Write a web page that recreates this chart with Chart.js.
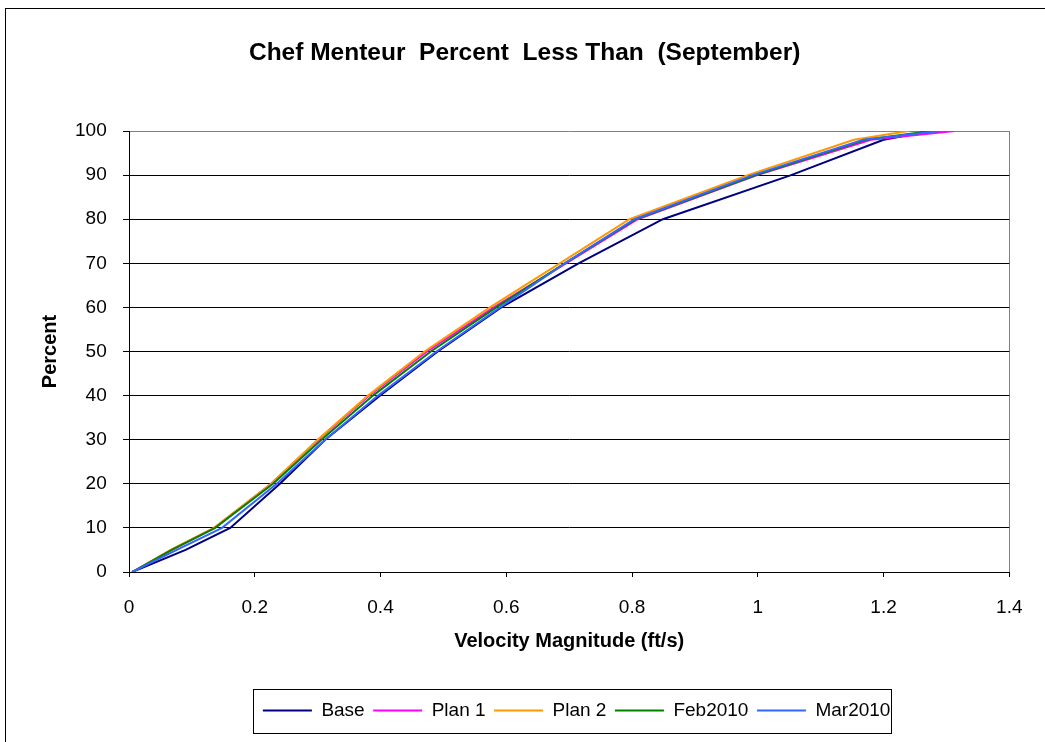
<!DOCTYPE html>
<html>
<head>
<meta charset="utf-8">
<script src="https://cdn.jsdelivr.net/npm/chart.js@4.4.1/dist/chart.umd.min.js"></script>
<style>
  html, body { margin: 0; padding: 0; background: #ffffff; }
  #wrap { width: 1045px; height: 742px; }
</style>
</head>
<body>
<div id="wrap"><canvas id="c" width="1045" height="742"></canvas></div>
<script>
// ---- data ----
const percentLevels = [0, 5, 10, 20, 30, 40, 50, 60, 70, 80, 90, 98, 100];
const baseVel    = [0.005, 0.090, 0.161, 0.240, 0.312, 0.399, 0.491, 0.592, 0.715, 0.849, 1.053, 1.200, 1.275];
const plan1Vel   = [0.005, 0.068, 0.136, 0.226, 0.301, 0.382, 0.474, 0.580, 0.695, 0.809, 0.999, 1.180, 1.313];
const plan2Vel   = [0.005, 0.066, 0.135, 0.226, 0.300, 0.380, 0.470, 0.574, 0.685, 0.796, 0.984, 1.153, 1.240];
const feb2010Vel = [0.005, 0.068, 0.137, 0.229, 0.306, 0.388, 0.480, 0.584, 0.693, 0.806, 0.997, 1.172, 1.275];
const mar2010Vel = [0.005, 0.076, 0.148, 0.235, 0.312, 0.396, 0.489, 0.590, 0.693, 0.804, 0.992, 1.168, 1.290];
const seriesNames = ['Base', 'Plan 1', 'Plan 2', 'Feb2010', 'Mar2010'];
const seriesColors = ['#000080', '#FF00FF', '#FF9900', '#008000', '#3366FF'];
const xTicks = [0, 0.2, 0.4, 0.6, 0.8, 1, 1.2, 1.4];
const yTicks = [0, 10, 20, 30, 40, 50, 60, 70, 80, 90, 100];

const allVel = [baseVel, plan1Vel, plan2Vel, feb2010Vel, mar2010Vel];
const FONT = "'Liberation Sans', Arial, sans-serif";
const LEGEND_SHIFT = 7.5;

const datasets = allVel.map((vel, i) => ({
  label: seriesNames[i],
  data: vel.map((v, j) => ({ x: v, y: percentLevels[j] })),
  borderColor: seriesColors[i],
  backgroundColor: seriesColors[i],
  borderWidth: 2,
  pointRadius: 0,
  pointHoverRadius: 0,
  tension: 0,
  fill: false,
  order: allVel.length - i
}));

const framePlugin = {
  id: 'frames',
  afterUpdate(chart) {
    const lg = chart.legend;
    if (!lg) return;
    lg.left += LEGEND_SHIFT;
    lg.right += LEGEND_SHIFT;
    (lg.legendHitBoxes || []).forEach(h => { h.left += LEGEND_SHIFT; });
  },
  beforeDraw(chart) {
    const ctx = chart.ctx;
    ctx.save();
    ctx.strokeStyle = '#000000';
    ctx.lineWidth = 1;
    ctx.strokeRect(5.5, 8.5, 1100, 800);
    ctx.restore();
  },
  afterDraw(chart) {
    const lg = chart.legend;
    if (!lg || !lg.legendHitBoxes || !lg.legendHitBoxes.length) return;
    const hb = lg.legendHitBoxes;
    const first = hb[0], last = hb[hb.length - 1];
    const cy = first.top + first.height / 2;
    const left = Math.round(first.left - 10) + 0.5;
    const right = Math.round(last.left + last.width + 1) + 0.5;
    const top = Math.round(cy - 22) + 0.5;
    const bottom = Math.round(cy + 22) + 0.5;
    const ctx = chart.ctx;
    ctx.save();
    ctx.strokeStyle = '#000000';
    ctx.lineWidth = 1;
    ctx.strokeRect(left, top, right - left, bottom - top);
    ctx.restore();
  }
};

new Chart(document.getElementById('c'), {
  type: 'line',
  data: { datasets },
  options: {
    responsive: false,
    animation: false,
    devicePixelRatio: 1,
    layout: { padding: { left: 40, right: 35.7, top: 10, bottom: 12 } },
    plugins: {
      title: {
        display: true,
        text: 'Chef Menteur  Percent  Less Than  (September)',
        color: '#000000',
        font: { family: FONT, size: 24.5, weight: 'bold', lineHeight: 1.2 },
        padding: { top: 28.3, bottom: 63.3 }
      },
      legend: {
        display: true,
        position: 'bottom',
        fullSize: false,
        labels: {
          color: '#000000',
          font: { family: FONT, size: 19 },
          boxWidth: 49,
          boxHeight: 2,
          padding: 8.5,
          sort: (a, b) => a.datasetIndex - b.datasetIndex,
          generateLabels: (chart) =>
            Chart.defaults.plugins.legend.labels.generateLabels(chart).map(l => ({
              ...l, fillStyle: l.strokeStyle, lineWidth: 0
            }))
        }
      },
      tooltip: { enabled: false }
    },
    scales: {
      x: {
        type: 'linear',
        min: 0,
        max: 1.4,
        afterBuildTicks: (s) => { s.ticks = xTicks.map(v => ({ value: v })); },
        afterFit: (s) => { s.height = 120.5; },
        ticks: {
          color: '#000000',
          font: { family: FONT, size: 19 },
          padding: 19,
          maxRotation: 0,
          autoSkip: false,
          callback: (v) => String(+(+v).toFixed(1))
        },
        grid: {
          color: (c) => (c.tick && Math.abs(c.tick.value - 1.4) < 1e-9) ? '#808080' : 'rgba(0,0,0,0)',
          tickColor: '#000000',
          tickLength: 5,
          lineWidth: 1
        },
        border: { color: '#000000', width: 1 },
        title: {
          display: true,
          text: 'Velocity Magnitude (ft/s)',
          color: '#000000',
          font: { family: FONT, size: 20, weight: 'bold', lineHeight: 1.2 },
          padding: { top: 0, bottom: 39.5 }
        }
      },
      y: {
        type: 'linear',
        min: 0,
        max: 100,
        afterBuildTicks: (s) => { s.ticks = yTicks.map(v => ({ value: v })); },
        afterFit: (s) => { s.width = 89; },
        ticks: {
          color: '#000000',
          font: { family: FONT, size: 19 },
          padding: 16.3,
          autoSkip: false
        },
        grid: {
          color: (c) => (c.tick && c.tick.value === 100) ? '#808080' : '#000000',
          tickColor: '#000000',
          tickLength: 6,
          lineWidth: 1
        },
        border: { color: '#000000', width: 1 },
        title: {
          display: true,
          text: 'Percent',
          color: '#000000',
          font: { family: FONT, size: 20, weight: 'bold', lineHeight: 1 },
          padding: { top: 0, bottom: 0 }
        }
      }
    }
  },
  plugins: [framePlugin]
});
</script>
</body>
</html>
